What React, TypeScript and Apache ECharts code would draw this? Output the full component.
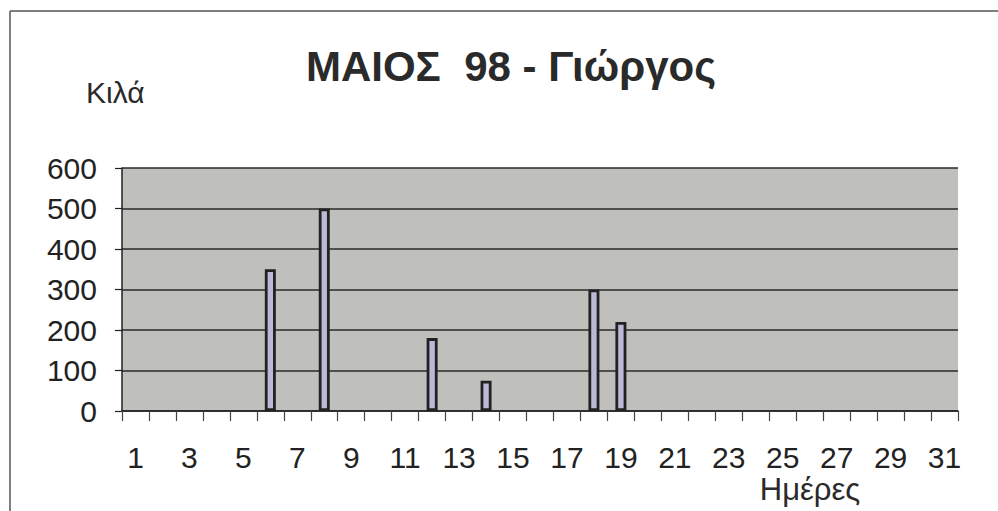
import React, { useEffect, useRef } from "react";
import * as echarts from "echarts";

const titleText = "ΜΑΙΟΣ  98 - Γιώργος";
const yName = "Κιλά";
const xName = "Ημέρες";
const days: string[] = [
  "1","2","3","4","5","6","7","8","9","10","11","12","13","14","15","16",
  "17","18","19","20","21","22","23","24","25","26","27","28","29","30","31",
];
const kilos: (number | null)[] = [
  null, null, null, null, null, 350, null, 500, null, null, null, 180, null, 75, null, null,
  null, 300, 220, null, null, null, null, null, null, null, null, null, null, null, null,
];

export default function App() {
  const ref = useRef<HTMLDivElement>(null);
  useEffect(() => {
    if (!ref.current) return;
    const chart = echarts.init(ref.current, undefined, { renderer: "svg" });
    const font = "Arial, 'Liberation Sans', sans-serif";
    chart.setOption({
      animation: false,
      backgroundColor: "#ffffff",
      grid: {
        left: 122,
        right: 40,
        top: 168,
        bottom: 100,
        show: true,
        backgroundColor: "#bfbfbc",
        borderWidth: 0,
      },
      xAxis: {
        type: "category",
        data: days,
        boundaryGap: true,
        axisLine: { show: true, lineStyle: { color: "#222", width: 1.5 } },
        axisTick: { show: true, interval: 0, length: 10, lineStyle: { color: "#444", width: 1.2 } },
        axisLabel: {
          interval: 1,
          margin: 31,
          fontSize: 30,
          fontFamily: font,
          color: "#222",
        },
        splitLine: { show: false },
      },
      yAxis: {
        type: "value",
        min: 0,
        max: 600,
        interval: 100,
        axisLine: { show: true, lineStyle: { color: "#222", width: 1.5 } },
        axisTick: { show: true, length: 7, lineStyle: { color: "#222", width: 1.2 } },
        axisLabel: {
          margin: 25,
          fontSize: 30,
          fontFamily: font,
          color: "#222",
        },
        splitLine: { show: true, lineStyle: { color: "#2a2a2a", width: 1.6 } },
      },
      series: [
        {
          type: "bar",
          data: kilos,
          barWidth: 11,
          itemStyle: { color: "#babad6", borderColor: "#222", borderWidth: 2.8 },
        },
      ],
      graphic: [
        { type: "line", shape: { x1: 10, y1: 11, x2: 998, y2: 11 }, style: { stroke: "#555", lineWidth: 1.5 } },
        { type: "line", shape: { x1: 10, y1: 11, x2: 10, y2: 511 }, style: { stroke: "#555", lineWidth: 1.5 } },
        {
          type: "text",
          x: 511,
          y: 66,
          style: {
            text: titleText,
            fontSize: 42,
            fontWeight: "bold",
            fontFamily: font,
            fill: "#2a2a2a",
            textAlign: "center",
            textVerticalAlign: "middle",
          },
        },
        {
          type: "text",
          x: 86,
          y: 92,
          style: {
            text: yName,
            fontSize: 30,
            fontFamily: font,
            fill: "#2a2a2a",
            textAlign: "left",
            textVerticalAlign: "middle",
          },
        },
        {
          type: "text",
          x: 810,
          y: 489,
          style: {
            text: xName,
            fontSize: 31,
            fontFamily: font,
            fill: "#2a2a2a",
            textAlign: "center",
            textVerticalAlign: "middle",
          },
        },
      ],
    });
    return () => chart.dispose();
  }, []);
  return <div ref={ref} style={{ width: 998, height: 511, position: "absolute", left: 0, top: 0 }} />;
}
